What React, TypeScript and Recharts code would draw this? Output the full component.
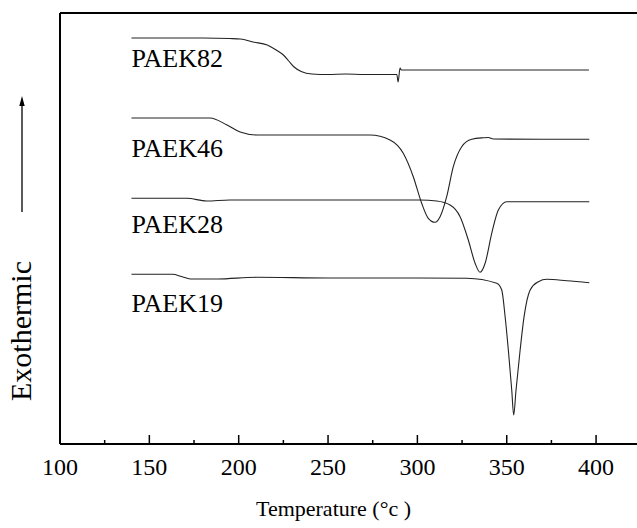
import React from 'react';
import { LineChart, Line, XAxis, YAxis, ReferenceDot, ReferenceLine } from 'recharts';

// [temperature °C, signal (arbitrary units, exothermic up)]
const paek82: [number, number][] = [
  [140, 406], [160, 406], [180, 406], [195, 405.5], [201, 405], [208, 402], [216, 399],
  [221, 394], [225, 389], [228, 383], [231, 377], [235, 372.5], [241, 370], [250, 369.5],
  [260, 370], [270, 369.5], [288.5, 369.5], [289.2, 362], [290.3, 376], [291, 374],
  [300, 374], [330, 374], [360, 374], [396, 374],
];
const paek46: [number, number][] = [
  [140, 326], [160, 326], [184, 326], [193.5, 319], [200.8, 312], [210.3, 309], [240, 309],
  [273.5, 309], [284.7, 304], [292.1, 290.7], [297.7, 267.3], [302.4, 240.7], [306.1, 225.7],
  [309.9, 221.7], [312.7, 227.3], [316.4, 247.3], [320.1, 277.3], [324.8, 297.3], [330.4, 304.7],
  [336.9, 306.2], [339.7, 306.5], [342.5, 305], [370, 304.7], [396.2, 304.7],
];
const paek28: [number, number][] = [
  [140, 245.7], [171, 245.7], [182, 243], [195, 244], [230, 244], [270, 244], [301.5, 244],
  [310.8, 243], [318.3, 239], [323.9, 227.3], [328.5, 204], [332.3, 180.7], [335.1, 171.7],
  [337.9, 180.7], [341.6, 210.7], [345.3, 234], [350, 242.3], [370, 242.3], [396.2, 242.3],
];
const paek19: [number, number][] = [
  [140, 169.7], [163, 169.7], [168, 167.5], [173, 165], [188, 165], [210, 166.7], [250, 166],
  [300, 166], [327.6, 165.7], [344.4, 160.7], [347.2, 154], [349.1, 127.3], [350.9, 94],
  [352.8, 54], [353.9, 29], [355.2, 54], [357.5, 94], [359.7, 127.3], [363.1, 154],
  [367.7, 162.3], [372.4, 164.7], [383.6, 163.3], [396.2, 161.3],
];

const seriesNames = ['PAEK82', 'PAEK46', 'PAEK28', 'PAEK19'];
const seriesData = [paek82, paek46, paek28, paek19];
// label anchor (temperature, signal) for each curve name
const labelT = [140, 140, 140, 140];
const labelV = [377, 287, 211, 132];

const xTicks = [100, 125, 150, 175, 200, 225, 250, 275, 300, 325, 350, 375, 400];

const FONT = '"Liberation Serif", "Times New Roman", serif';
const fontStyle = { fontFamily: FONT };

const toRows = (arr: [number, number][]) => arr.map(([t, v]) => ({ t, v }));

const XTick = (props: any) => {
  const { x, y, payload } = props;
  const v = payload.value as number;
  const major = v % 50 === 0;
  return (
    <g>
      <line x1={x} y1={y} x2={x} y2={y - (major ? 9 : 4)} stroke="#000" strokeWidth={1.5} />
      {major && (
        <text x={x} y={y + 31} textAnchor="middle" fontSize={24} style={fontStyle} fill="#000">
          {v}
        </text>
      )}
    </g>
  );
};

const XTitle = () => (
  <text x={256} y={516} textAnchor="start" fontSize={22} style={fontStyle} fill="#000">
    Temperature (°c )
  </text>
);

const YTitle = () => (
  <g>
    <text
      x={31}
      y={331}
      transform="rotate(-90 31 331)"
      textAnchor="middle"
      fontSize={30}
      style={fontStyle}
      fill="#000"
    >
      Exothermic
    </text>
    <line x1={22} y1={212} x2={22} y2={104} stroke="#000" strokeWidth={1.3} />
    <polygon points="22,96 19.3,106 24.7,106" fill="#000" />
  </g>
);

const NameLabel = (name: string) => (props: any) => {
  const vb = props.viewBox || {};
  return (
    <text x={vb.x} y={vb.y} fontSize={26} style={fontStyle} fill="#000">
      {name}
    </text>
  );
};

export default function App() {
  return (
    <div style={{ position: 'absolute', left: 0, top: 0, background: '#fff' }}>
      <LineChart width={637} height={528} margin={{ top: 13, right: 0, bottom: 0, left: 0 }}>
        <XAxis
          dataKey="t"
          type="number"
          domain={[100, 422.9]}
          allowDataOverflow
          ticks={xTicks}
          interval={0}
          height={84}
          tickSize={0}
          tickMargin={0}
          tickLine={false}
          axisLine={{ stroke: '#000', strokeWidth: 2 }}
          tick={<XTick />}
          label={<XTitle />}
        />
        <YAxis
          type="number"
          domain={[0, 431]}
          allowDataOverflow
          width={60}
          tick={false}
          tickLine={false}
          axisLine={{ stroke: '#000', strokeWidth: 2 }}
          label={<YTitle />}
        />
        <ReferenceLine y={431} stroke="#000" strokeWidth={2} ifOverflow="visible" />
        {seriesData.map((d, i) => (
          <Line
            key={seriesNames[i]}
            data={toRows(d)}
            dataKey="v"
            type="monotone"
            stroke="#222"
            strokeWidth={1.1}
            dot={false}
            isAnimationActive={false}
          />
        ))}
        {seriesNames.map((n, i) => (
          <ReferenceDot
            key={'lbl' + n}
            x={labelT[i]}
            y={labelV[i]}
            r={0}
            fill="none"
            stroke="none"
            label={NameLabel(n)}
          />
        ))}
      </LineChart>
    </div>
  );
}
